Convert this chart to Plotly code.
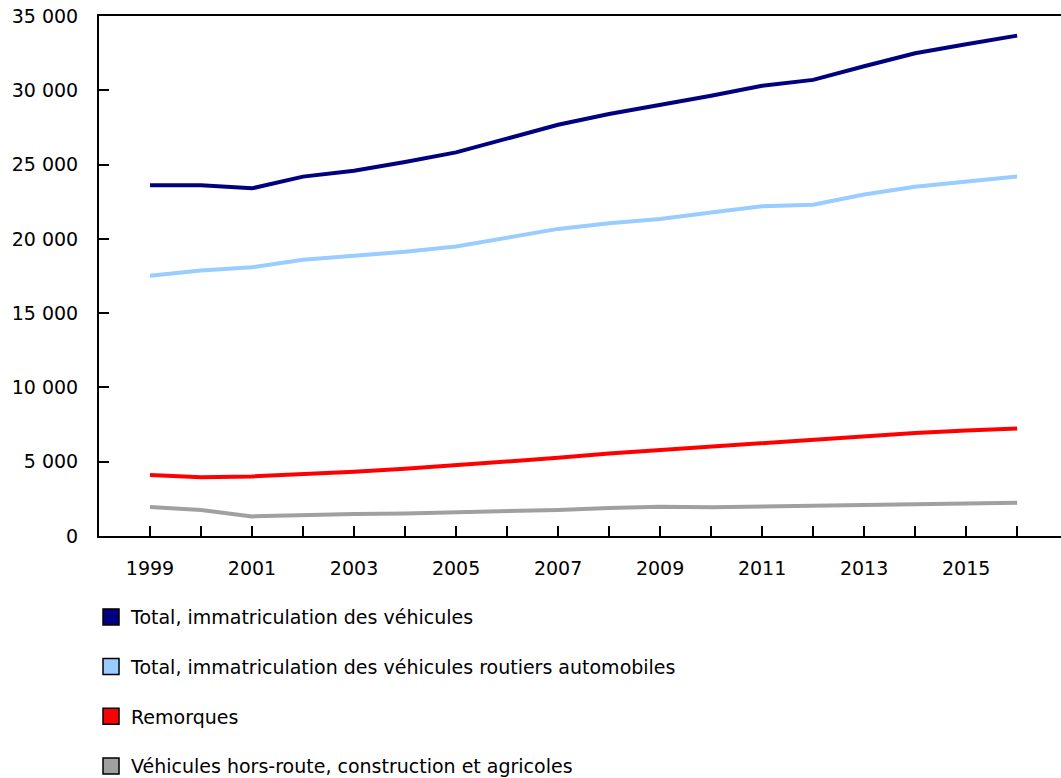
import plotly.graph_objects as go

years = list(range(1999, 2017))
total = [23600, 23600, 23400, 24190, 24590, 25170, 25820, 26780, 27680, 28400,
         29000, 29630, 30300, 30700, 31620, 32490, 33100, 33680]
routiers = [17510, 17870, 18090, 18590, 18860, 19130, 19480, 20070, 20670, 21050,
            21340, 21770, 22190, 22300, 22980, 23510, 23870, 24200]
remorques = [4100, 3960, 4010, 4140, 4320, 4520, 4750, 4990, 5260, 5550,
             5780, 6000, 6230, 6450, 6720, 6940, 7100, 7230]
hors_route = [1950, 1750, 1320, 1410, 1480, 1520, 1590, 1660, 1750, 1880,
              1970, 1930, 1990, 2020, 2060, 2150, 2170, 2240]

names = ["Total, immatriculation des véhicules",
         "Total, immatriculation des véhicules routiers automobiles",
         "Remorques",
         "Véhicules hors-route, construction et agricoles"]
colors = ["#000080", "#99CCFF", "#FF0000", "#A0A0A0"]
series = [total, routiers, remorques, hors_route]

y_ticks = [0, 5000, 10000, 15000, 20000, 25000, 30000, 35000]
y_ticktext = ["0", "5 000", "10 000", "15 000", "20 000", "25 000", "30 000", "35 000"]
x_ticktext = [str(y) if (y - 1999) % 2 == 0 else "" for y in years]

W, H = 1061, 778

fig = go.Figure()
for n, c, s in zip(names, colors, series):
    fig.add_trace(go.Scatter(x=years, y=s, mode="lines", name=n,
                             line=dict(color=c, width=4), showlegend=False))
for i, (n, c) in enumerate(zip(names, colors)):
    fig.add_trace(go.Scatter(x=[None], y=[None], mode="markers", name=n,
                             legendgroup="g%d" % i,
                             marker=dict(symbol="square", size=20, color=c,
                                         line=dict(color="black", width=1.5))))

fig.update_layout(
    width=W, height=H,
    margin=dict(l=99, r=0, t=16, b=242, autoexpand=False),
    paper_bgcolor="white", plot_bgcolor="white",
    font=dict(family="DejaVu Sans, Verdana, sans-serif", size=19, color="black"),
    showlegend=True,
    legend=dict(xref="paper", yref="container",
                x=-0.0083, xanchor="left", y=0.2313, yanchor="top",
                orientation="v", traceorder="grouped", tracegroupgap=22,
                font=dict(size=19), bgcolor="rgba(0,0,0,0)"),
    xaxis=dict(range=[1998, 2016.86], tickvals=years, ticktext=x_ticktext,
               ticks="inside", ticklen=10, tickwidth=2, tickcolor="black",
               showline=True, linecolor="black", linewidth=2, mirror=True,
               showgrid=False, zeroline=False, ticklabelstandoff=14,
               automargin=False, ticklabeloverflow="allow"),
    yaxis=dict(range=[0, 35000], tickvals=y_ticks, ticktext=y_ticktext,
               ticks="inside", ticklen=10, tickwidth=2, tickcolor="black",
               showline=True, linecolor="black", linewidth=2,
               showgrid=False, zeroline=False, ticklabelstandoff=15,
               automargin=False, ticklabeloverflow="allow"),
)

fig.write_html("out.html",
               config={"displayModeBar": False},
               post_script="document.body.style.margin='0';"
                           "document.body.style.overflow='hidden';")
